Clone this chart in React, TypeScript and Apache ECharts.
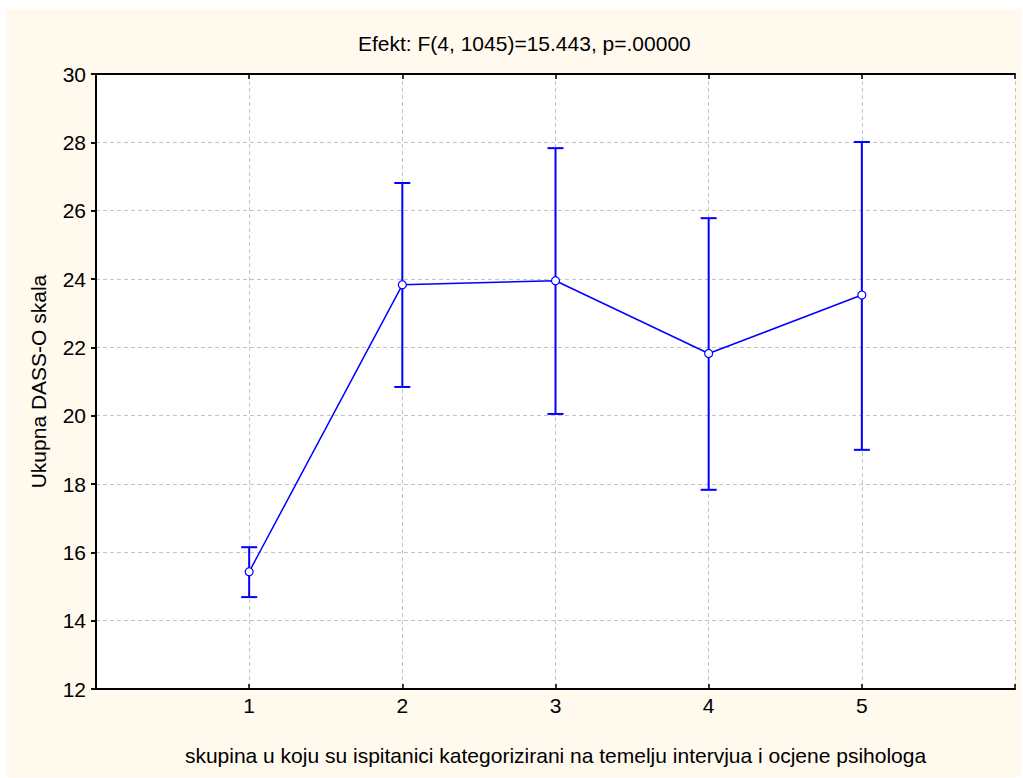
import React, { useEffect, useRef } from "react";
import * as echarts from "echarts";

const groups = [1, 2, 3, 4, 5];
const means = [15.43, 23.83, 23.95, 21.82, 23.53];
const lower = [14.69, 20.84, 20.05, 17.83, 19.0];
const upper = [16.15, 26.81, 27.83, 25.78, 28.01];
const yTicks = [12, 14, 16, 18, 20, 22, 24, 26, 28, 30];

const titleText = "Efekt: F(4, 1045)=15.443, p=.00000";
const xName = "skupina u koju su ispitanici kategorizirani na temelju intervjua i ocjene psihologa";
const yName = "Ukupna DASS-O skala";

const FONT = "Liberation Sans, Arial, sans-serif";
const FS = 21;
const BLUE = "#0000ff";

export default function App() {
  const ref = useRef<HTMLDivElement>(null);
  useEffect(() => {
    if (!ref.current) return;
    const chart = echarts.init(ref.current, null, { renderer: "svg" });
    const grid = { left: 90, top: 65, right: 6, bottom: 88 };
    const splitLine = { show: true, lineStyle: { color: "#c4c4c4", type: [4, 3] as any, width: 1 } };
    const axisLine = { show: true, lineStyle: { color: "#000", width: 2 } };
    chart.setOption({
      animation: false,
      backgroundColor: "#fff9ee",
      title: {
        text: titleText,
        left: 347,
        top: 19,
        textStyle: { fontFamily: FONT, fontSize: FS, fontWeight: "normal", color: "#000" },
      },
      grid: { ...grid, containLabel: false, show: true, backgroundColor: "#fff", borderWidth: 0 },
      xAxis: [
        {
          type: "value",
          min: 0,
          max: 6,
          interval: 1,
          position: "bottom",
          axisLine,
          axisTick: { show: true, inside: true, length: 5, lineStyle: { color: "#000", width: 1.5 } },
          axisLabel: {
            fontFamily: FONT,
            fontSize: FS,
            color: "#000",
            margin: 6,
            formatter: (v: number) => (groups.includes(v) ? String(v) : ""),
          },
          splitLine,
          name: xName,
          nameLocation: "middle",
          nameGap: 56,
          nameTextStyle: { fontFamily: FONT, fontSize: FS, color: "#000" },
        },
        {
          type: "value",
          min: 0,
          max: 6,
          interval: 1,
          position: "top",
          axisLine,
          axisTick: { show: true, inside: true, length: 5, lineStyle: { color: "#000", width: 1.5 } },
          axisLabel: { show: false },
          splitLine: { show: false },
        },
      ],
      yAxis: [
        {
          type: "value",
          min: yTicks[0],
          max: yTicks[yTicks.length - 1],
          interval: 2,
          position: "left",
          axisLine,
          axisTick: { show: true, inside: false, length: 5, lineStyle: { color: "#000", width: 1.5 } },
          axisLabel: { fontFamily: FONT, fontSize: FS, color: "#000", margin: 10 },
          splitLine,
          name: yName,
          nameLocation: "middle",
          nameGap: 47,
          nameTextStyle: { fontFamily: FONT, fontSize: FS, color: "#000" },
        },
        {
          type: "value",
          min: yTicks[0],
          max: yTicks[yTicks.length - 1],
          interval: 2,
          position: "right",
          axisLine,
          axisTick: { show: true, inside: true, length: 5, lineStyle: { color: "#000", width: 1.5 } },
          axisLabel: { show: false },
          splitLine: { show: false },
        },
      ],
      series: [
        {
          type: "custom",
          xAxisIndex: 0,
          yAxisIndex: 0,
          z: 2,
          data: groups.map((g, i) => [g, lower[i], upper[i]]),
          renderItem: (params: any, api: any) => {
            const x = api.value(0);
            const top = api.coord([x, api.value(2)]);
            const bot = api.coord([x, api.value(1)]);
            const w = 8;
            const style = { stroke: BLUE, lineWidth: 2 };
            return {
              type: "group",
              children: [
                { type: "line", shape: { x1: top[0], y1: top[1], x2: bot[0], y2: bot[1] }, style },
                { type: "line", shape: { x1: top[0] - w, y1: top[1], x2: top[0] + w, y2: top[1] }, style },
                { type: "line", shape: { x1: bot[0] - w, y1: bot[1], x2: bot[0] + w, y2: bot[1] }, style },
              ],
            };
          },
        },
        {
          type: "line",
          xAxisIndex: 0,
          yAxisIndex: 0,
          z: 3,
          data: groups.map((g, i) => [g, means[i]]),
          symbol: "circle",
          symbolSize: 8,
          lineStyle: { color: BLUE, width: 1.5 },
          itemStyle: { color: "#fff", borderColor: BLUE, borderWidth: 1.2 },
        },
      ],
    });
    return () => chart.dispose();
  }, []);
  return (
    <div
      ref={ref}
      style={{ position: "fixed", left: 6, top: 9, width: 1015, height: 768 }}
    />
  );
}
